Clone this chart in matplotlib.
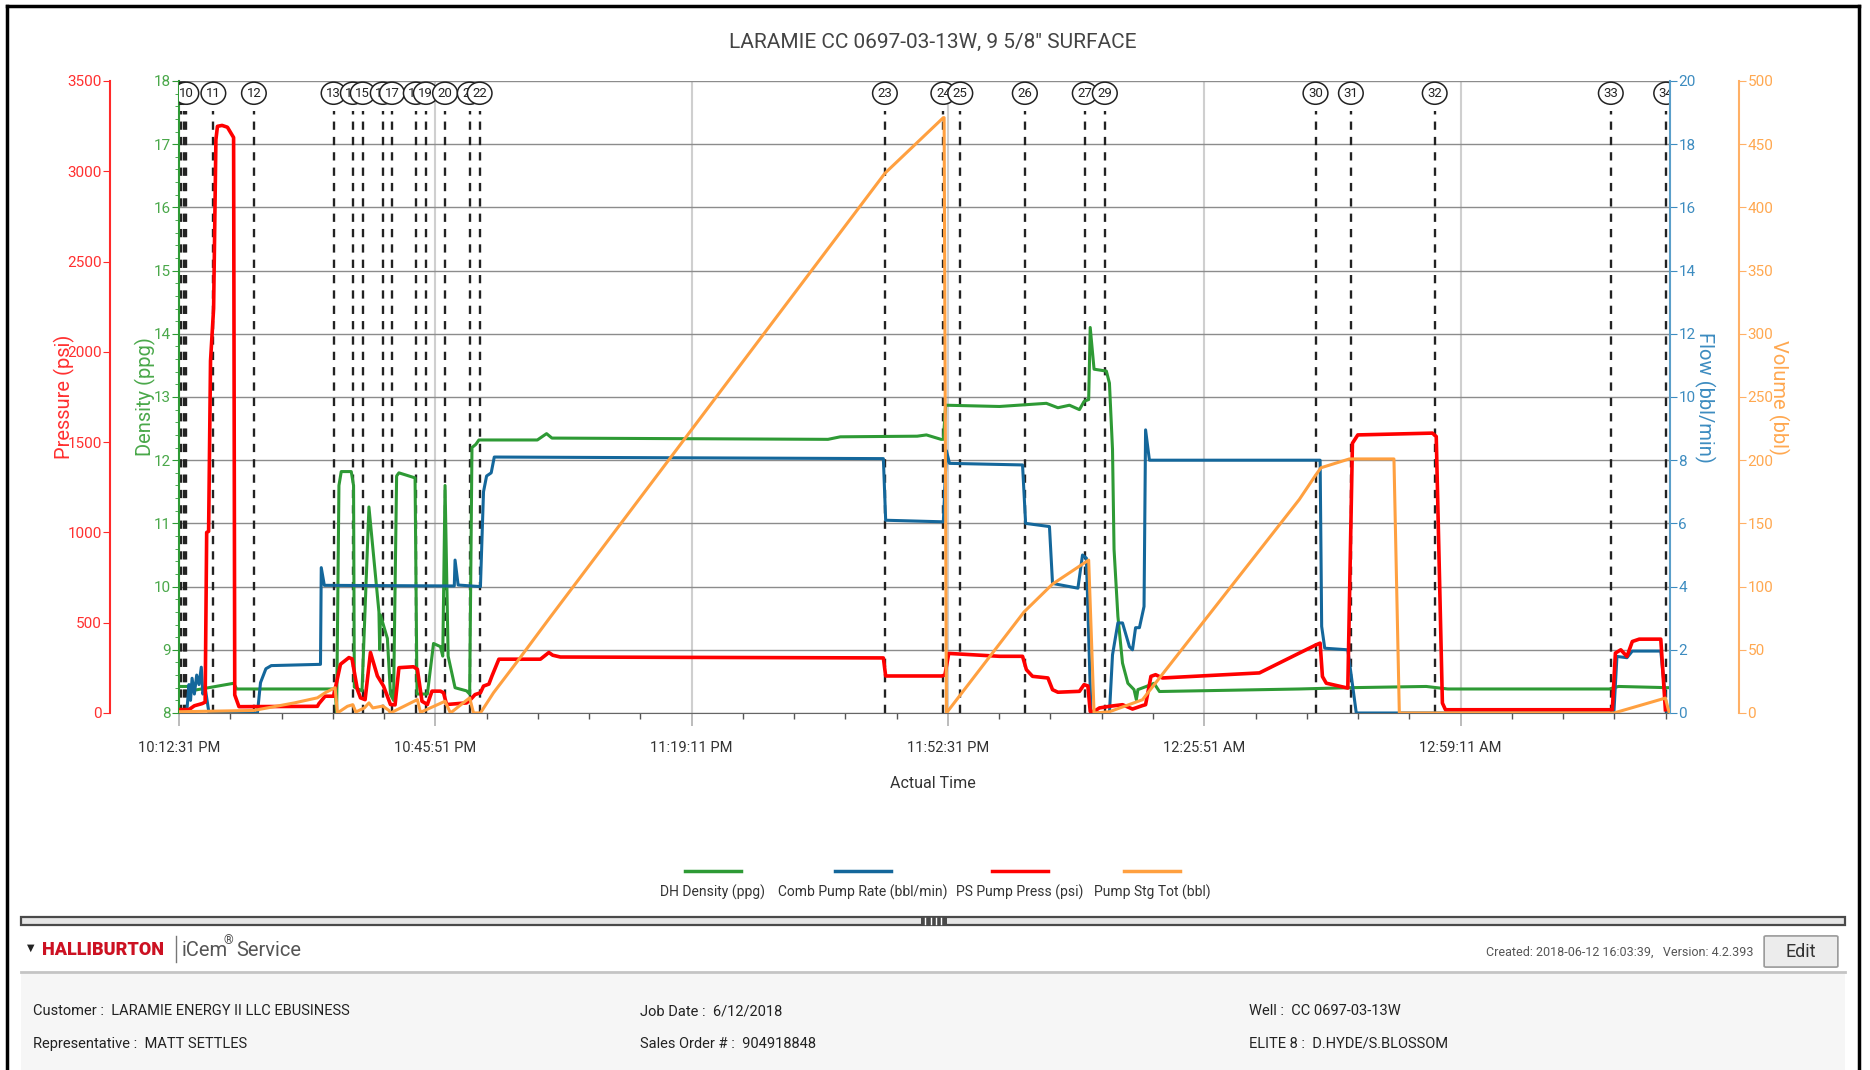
import numpy as np
import matplotlib.pyplot as plt
from matplotlib.patches import Rectangle, FancyBboxPatch
from matplotlib.lines import Line2D

plt.rcParams['font.family'] = ['Roboto', 'DejaVu Sans']

# time axis is minutes after 10:12:31 PM
xtick_labels = ['10:12:31 PM', '10:45:51 PM', '11:19:11 PM', '11:52:31 PM', '12:25:51 AM', '12:59:11 AM']

# DH Density (ppg)
dens_t = [0, 1.3, 1.5, 7.1, 7.5, 20.3, 20.5, 20.8, 21.1, 22.4, 22.7, 22.8, 23.8, 24.7, 26.0, 26.1, 26.2,
          27.1, 27.5, 27.9, 28.3, 28.6, 30.7, 30.95, 32.3, 33.1, 34.0, 34.3, 34.6, 35.0, 35.9, 37.4, 37.8,
          38.1, 38.6, 39.0, 46.6, 47.8, 48.5, 84.4, 86.0, 96.0, 97.2, 99.1, 99.4, 99.7, 106.7, 112.8,
          114.3, 115.8, 117.1, 117.7, 118.3, 118.5, 119.0, 120.6, 121.0, 121.4, 121.6, 122.1, 122.7,
          123.4, 124.2, 124.5, 124.7, 125.8, 126.8, 127.5, 145.7, 152.0, 162.2, 165.0, 186.0, 187.2, 193.9]
dens_v = [8.42, 8.42, 8.35, 8.47, 8.38, 8.38, 8.0, 11.6, 11.82, 11.82, 11.6, 8.41, 8.35, 11.26, 9.6, 9.0, 9.55,
          9.18, 8.3, 8.2, 11.75, 11.8, 11.72, 8.3, 8.3, 9.1, 9.05, 8.9, 11.6, 8.9, 8.4, 8.35, 8.3,
          12.2, 12.25, 12.32, 12.32, 12.42, 12.35, 12.33, 12.37, 12.38, 12.4, 12.33, 12.33, 12.87, 12.85, 12.9,
          12.83, 12.87, 12.8, 12.93, 12.96, 14.1, 13.44, 13.41, 13.22, 12.17, 10.59, 9.53, 8.79,
          8.47, 8.37, 8.21, 8.37, 8.42, 8.47, 8.34, 8.38, 8.4, 8.42, 8.38, 8.38, 8.42, 8.4]

# Comb Pump Rate (bbl/min)
rate_t = [0, 1.0, 1.3, 1.5, 1.7, 2.0, 2.3, 2.6, 2.9, 3.1, 3.4, 3.9, 10.2, 10.6, 11.3, 12.0, 18.4, 18.5,
          18.9, 35.8, 35.9, 36.3, 39.2, 39.6, 40.0, 40.6, 41.0, 91.6, 91.9, 99.4, 99.8, 100.2, 109.7,
          110.1, 113.2, 113.6, 116.9, 117.5, 118.0, 118.6, 121.0, 121.4, 122.1, 122.7, 123.6, 124.0,
          124.4, 124.9, 125.5, 125.7, 126.2, 148.4, 148.6, 149.0, 152.0, 153.1, 186.6, 187.0, 188.3,
          189.0, 192.7, 193.5]
rate_v = [0, 0, 0.9, 0.4, 1.1, 0.6, 1.2, 0.9, 1.45, 0.6, 0.8, 0, 0, 0.96, 1.4, 1.5, 1.54, 4.6,
          4.04, 4.02, 4.84, 4.05, 4.0, 7.0, 7.5, 7.6, 8.1, 8.05, 6.1, 6.05, 8.3, 7.9, 7.85,
          6.0, 5.9, 4.1, 3.95, 5.0, 4.9, 0, 0, 1.84, 2.85, 2.85, 2.1, 2.0,
          2.7, 2.7, 3.37, 8.96, 8.0, 8.0, 2.74, 2.05, 2.0, 0, 0, 1.79, 1.75,
          1.96, 1.96, 0]

# PS Pump Press (psi)
press_t = [0, 1.3, 2.0, 3.0, 3.4, 3.6, 3.85, 4.1, 4.5, 4.8, 5.0, 5.6, 6.3, 7.1, 7.25, 7.8, 18.0, 18.2,
           19.0, 20.1, 21.0, 22.1, 22.5, 23.2, 23.6, 24.2, 24.9, 25.8, 26.6, 27.5, 28.1, 28.6, 30.5,
           31.0, 31.6, 32.3, 32.9, 34.0, 34.4, 34.8, 37.4, 37.9, 38.5, 39.2, 39.6, 40.3, 40.7, 41.6,
           47.0, 48.1, 48.6, 49.6, 91.6, 91.9, 99.2, 99.6, 100.1, 106.7, 109.7, 110.2, 111.0, 113.0,
           113.6, 114.3, 117.1, 117.7, 118.2, 118.5, 119.0, 119.7, 121.0, 122.7, 124.0, 125.3, 125.7,
           126.4, 127.0, 127.9, 140.5, 145.7, 147.9, 148.4, 148.7, 149.2, 152.0, 152.6, 153.3, 163.0,
           163.5, 164.3, 164.7, 186.4, 186.8, 187.5, 188.3, 189.0, 189.9, 192.7, 193.3]
press_v = [19, 19, 40, 52, 60, 1000, 1006, 1950, 2240, 3175, 3249, 3254, 3244, 3187, 100, 35, 37, 52,
           93, 93, 270, 307, 300, 130, 84, 74, 335, 205, 149, 47, 45, 251, 256,
           242, 65, 47, 121, 121, 112, 47, 56, 74, 102, 112, 149, 160, 205, 298,
           298, 335, 320, 310, 305, 205, 205, 210, 330, 314, 314, 240, 203, 194,
           129, 115, 120, 157, 150, 9, 9, 28, 37, 46, 22, 41, 46,
           203, 212, 194, 222, 332, 378, 387, 202, 165, 138, 1494, 1540, 1550,
           1531, 55, 18, 18, 332, 350, 313, 396, 409, 409, 18]

# Pump Stg Tot (bbl)
vol_t = [0, 9.7, 15.0, 18.0, 19.0, 20.3, 20.6, 21.9, 22.6, 23.0, 24.1, 24.7, 25.2, 26.5, 27.3, 27.5,
         31.0, 31.4, 34.6, 35.3, 37.8, 38.3, 39.2, 40.9, 43.9, 48.3, 91.8, 99.4, 99.5, 99.8, 109.9,
         113.6, 118.3, 119.0, 121.0, 125.3, 126.0, 145.7, 147.8, 148.5, 152.2, 158.0, 158.7, 186.6,
         193.3, 193.8]
vol_v = [1, 2, 8, 12, 16, 20, 0, 5.3, 6.6, 0.8, 4, 8, 4, 5.5, 2, 0,
         10.6, 0.5, 9.3, 0, 12, 0, 0, 16, 40, 76, 427, 471, 471, 0, 80,
         102, 121, 0, 1, 10.5, 16, 169, 188, 194, 201, 201, 0, 0,
         11.8, 0]

# event markers
event_t = [0.25, 0.6, 0.95, 4.47, 9.74, 20.1, 22.6, 23.9, 26.5, 27.7, 30.8, 32.1, 34.6, 37.8, 39.1,
           91.8, 99.4, 101.6, 110.0, 117.8, 120.4, 147.8, 152.4, 163.3, 186.2, 193.4]
event_lab = ['8', '9', '10', '11', '12', '13', '14', '15', '16', '17', '18', '19', '20', '21', '22',
             '23', '24', '25', '26', '27', '29', '30', '31', '32', '33', '34']

series_names = ['DH Density (ppg)', 'Comb Pump Rate (bbl/min)', 'PS Pump Press (psi)', 'Pump Stg Tot (bbl)']

c_dens, c_rate, c_press, c_vol = '#2e9a35', '#14679b', '#ff0000', '#ffa040'

W, H = 1870, 1070
fig = plt.figure(figsize=(W / 100, H / 100), dpi=100)
ax = fig.add_axes([179 / W, 1 - 713 / H, 1491 / W, 632 / H])
ax_f = ax.twinx()
ax_p = ax.twinx()
ax_v = ax.twinx()

# density (host)
ax.set_xlim(0, 193.9)
ax.set_ylim(8, 18)
ax.set_yticks(np.arange(8, 19, 1))
ax.set_yticks(np.arange(8, 18.01, 0.2), minor=True)
ax.set_xticks(np.arange(0, 190, 200 / 6))
ax.set_xticklabels(xtick_labels)
ax.set_xticks(np.arange(0, 194, 20 / 3), minor=True)
ax.grid(axis='y', color='#8c8c8c', lw=1)
ax.grid(axis='x', which='major', color='#cfcfcf', lw=1.5)
ax.tick_params(axis='x', which='major', length=9, color='#b0b0b0', width=1.2, labelsize=10.5,
               labelcolor='#333333', pad=11)
ax.tick_params(axis='x', which='minor', length=4, color='#555555', width=1)
ax.tick_params(axis='y', which='major', length=5, color=c_dens, labelcolor='#4aa84a', labelsize=11, pad=1)
ax.tick_params(axis='y', which='minor', length=3, color=c_dens)
for s in ['top', 'right']:
    ax.spines[s].set_visible(False)
ax.spines['left'].set_color(c_dens)
ax.spines['left'].set_linewidth(1.5)
ax.spines['bottom'].set_color('#666666')
ax.set_ylabel('Density (ppg)', color='#4aa84a', fontsize=14.5)
ax.yaxis.set_label_coords(-0.0153, 0.5)

for t, lab in zip(event_t, event_lab):
    ax.axvline(t, ymin=0, ymax=0.952, color='#222222', lw=1.7, ls=(0, (3.5, 3)))
for t, lab in zip(event_t, event_lab):
    ax.annotate(lab, xy=(t, 1), xycoords=('data', 'axes fraction'), xytext=(0, -8.8),
                textcoords='offset points', ha='center', va='center', fontsize=9.5, color='#222222',
                bbox=dict(boxstyle='ellipse,pad=0.1', fc='white', ec='#222222', lw=1.1), clip_on=True)

ax.plot(dens_t, dens_v, color=c_dens, lw=2.2, zorder=3)

# flow
ax_f.plot(rate_t, rate_v, color=c_rate, lw=2.2)
ax_f.set_ylim(0, 20)
ax_f.set_yticks(np.arange(0, 21, 2))
ax_f.tick_params(axis='y', length=5, color='#3d8cc0', labelcolor='#3d8cc0', labelsize=11, pad=1)
for s in ['top', 'left', 'bottom']:
    ax_f.spines[s].set_visible(False)
ax_f.spines['right'].set_color('#5a9fca')
ax_f.spines['right'].set_linewidth(1.5)
ax_f.set_ylabel('Flow (bbl/min)', color='#3d8cc0', fontsize=14.5, rotation=270)
ax_f.yaxis.set_label_coords(1.030, 0.5)

# pressure
ax_p.plot(press_t, press_v, color=c_press, lw=2.6)
ax_p.set_ylim(0, 3500)
ax_p.set_yticks(np.arange(0, 3501, 500))
ax_p.yaxis.set_ticks_position('left')
ax_p.yaxis.set_label_position('left')
ax_p.spines['left'].set_position(('outward', 69 * 0.72))
for s in ['top', 'right', 'bottom']:
    ax_p.spines[s].set_visible(False)
ax_p.spines['left'].set_visible(True)
ax_p.spines['left'].set_color('#ff2a2a')
ax_p.spines['left'].set_linewidth(1.5)
ax_p.tick_params(axis='y', length=5, color='#ff2a2a', labelcolor='#ff3030', labelsize=11, pad=1)
ax_p.set_ylabel('Pressure (psi)', color='#ff3030', fontsize=14.5)
ax_p.yaxis.set_label_coords(-0.070, 0.5)

# volume
ax_v.plot(vol_t, vol_v, color=c_vol, lw=2.2)
ax_v.set_ylim(0, 500)
ax_v.set_yticks(np.arange(0, 501, 50))
ax_v.spines['right'].set_position(('outward', 69 * 0.72))
for s in ['top', 'left', 'bottom']:
    ax_v.spines[s].set_visible(False)
ax_v.spines['right'].set_color('#ffb066')
ax_v.spines['right'].set_linewidth(1.5)
ax_v.tick_params(axis='y', length=5, color='#ffb066', labelcolor='#ffa850', labelsize=11, pad=1)
ax_v.set_ylabel('Volume (bbl)', color='#ffa850', fontsize=14.5, rotation=270)
ax_v.yaxis.set_label_coords(1.080, 0.5)

fig.text(933 / W, 1 - 42 / H, 'LARAMIE CC 0697-03-13W, 9 5/8" SURFACE', ha='center', va='center',
         fontsize=15, color='#444444')
fig.text(933 / W, 1 - 784 / H, 'Actual Time', ha='center', va='center', fontsize=11.5, color='#333333')

# legend (handle above label)
leg_x = [713, 863, 1020, 1152]
for name, col, xc in zip(series_names, [c_dens, c_rate, c_press, c_vol], leg_x):
    fig.add_artist(Line2D([(xc - 28) / W, (xc + 28) / W], [1 - 871 / H] * 2, color=col, lw=2.5))
    fig.text(xc / W, 1 - 892 / H, name, ha='center', va='center', fontsize=10, color='#333333')

# page frame / footer
tf = fig.transFigure
fig.add_artist(Line2D([7 / W, 7 / W], [0, 1 - 6 / H], color='black', lw=2.5))
fig.add_artist(Line2D([7 / W, 1859 / W], [1 - 6 / H] * 2, color='black', lw=2.5))
fig.add_artist(Line2D([1859 / W, 1859 / W], [0, 1 - 6 / H], color='black', lw=2.5))
fig.add_artist(Rectangle((21 / W, 1 - 925 / H), 1824 / W, 8 / H, transform=tf, fc='#e6e6e6', ec='#4a4a4a', lw=1.6))
fig.add_artist(Rectangle((921 / W, 1 - 926 / H), 26 / W, 10 / H, transform=tf, fc='#4a4a4a', ec='none'))
for k in range(4):
    fig.add_artist(Line2D([(925 + 5.5 * k) / W] * 2, [1 - 924 / H, 1 - 918 / H], color='white', lw=1))
fig.add_artist(Rectangle((21 / W, 0), 1824 / W, 1 - 974 / H, transform=tf, fc='#f6f6f6', ec='none'))
fig.add_artist(Line2D([21 / W, 1845 / W], [1 - 972 / H] * 2, color='#c4c4c4', lw=2))

fig.text(31 / W, 1 - 948 / H, '\u25bc', ha='center', va='center', fontsize=7, color='#222222',
         family=['DejaVu Sans'])
fig.text(42 / W, 1 - 950 / H, 'HALLIBURTON', ha='left', va='center', fontsize=13, fontweight='black',
         color='#cc1122')
fig.add_artist(Line2D([176 / W] * 2, [1 - 936 / H, 1 - 962 / H], color='#777777', lw=1))
fig.text(182 / W, 1 - 950 / H, 'iCem', ha='left', va='center', fontsize=14.5, color='#555555')
fig.text(224 / W, 1 - 941 / H, '\u00ae', ha='left', va='center', fontsize=9, color='#555555')
fig.text(236 / W, 1 - 950 / H, 'Service', ha='left', va='center', fontsize=14.5, color='#555555')
fig.text(1753 / W, 1 - 952 / H, 'Created: 2018-06-12 16:03:39,   Version: 4.2.393', ha='right', va='center',
         fontsize=9, color='#555555')
fig.add_artist(FancyBboxPatch((1766 / W, 1 - 966 / H), 70 / W, 29 / H, boxstyle='round,pad=0.001',
                              transform=tf, fc='#ececec', ec='#9a9a9a', lw=1.2))
fig.text(1801 / W, 1 - 952 / H, 'Edit', ha='center', va='center', fontsize=13, color='#333333')

info = [(33, 1011, 'Customer :  LARAMIE ENERGY II LLC EBUSINESS'),
        (33, 1044, 'Representative :  MATT SETTLES'),
        (640, 1011, 'Job Date :  6/12/2018'),
        (640, 1044, 'Sales Order # :  904918848'),
        (1249, 1011, 'Well :  CC 0697-03-13W'),
        (1249, 1044, 'ELITE 8 :  D.HYDE/S.BLOSSOM')]
for xx, yy, s in info:
    fig.text(xx / W, 1 - yy / H, s, ha='left', va='center', fontsize=10.5, color='#222222')

fig.savefig('out.png', dpi=100)
